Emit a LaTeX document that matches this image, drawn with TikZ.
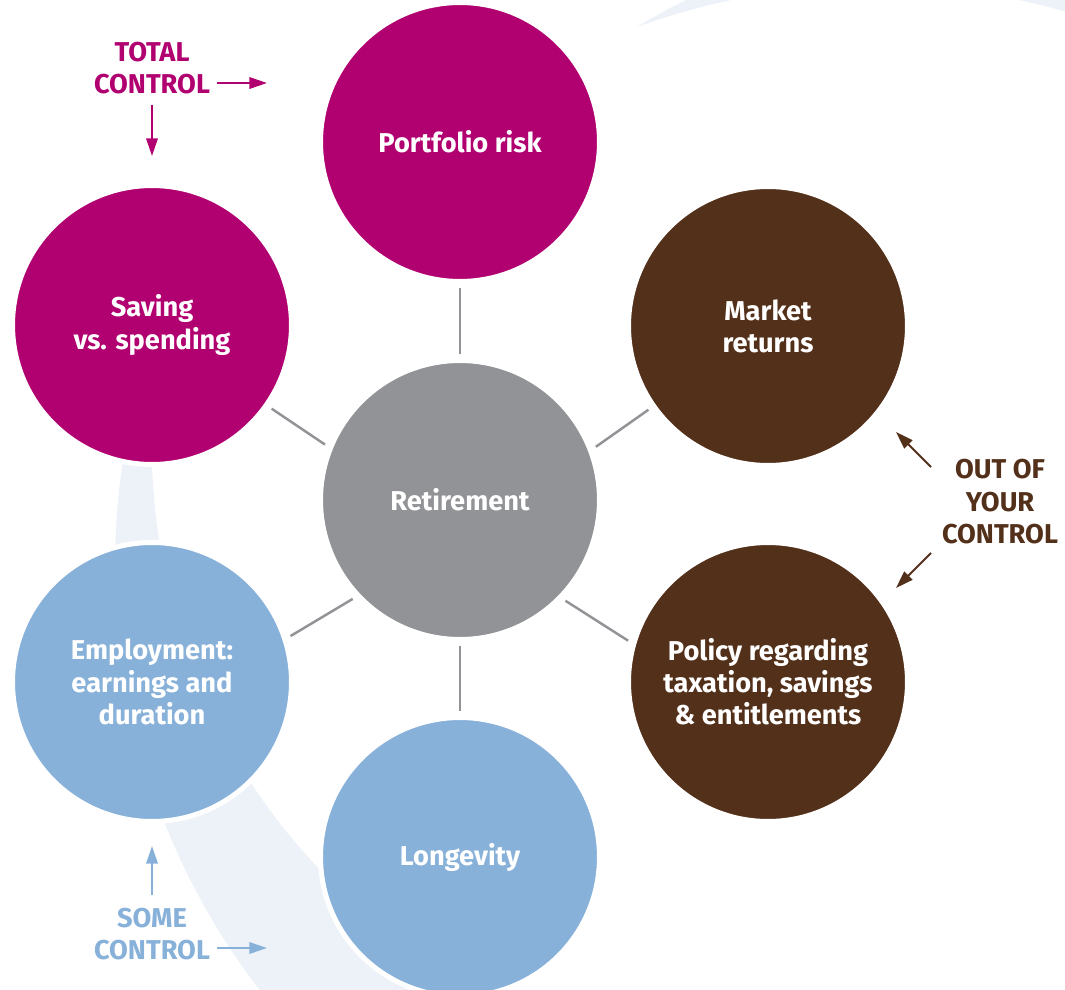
\documentclass[tikz,border=0pt]{standalone}
\usepackage{fontspec}
\setmainfont{Fira Sans}
\usetikzlibrary{arrows.meta}

\definecolor{plum}{RGB}{177,0,112}
\definecolor{umber}{RGB}{83,48,26}
\definecolor{sky}{RGB}{135,177,217}
\definecolor{slate}{RGB}{146,147,150}
\definecolor{haze}{RGB}{237,242,249}

\tikzset{
  bubble/.style={circle, draw=white, line width=0.1cm, minimum size=5.58cm, inner sep=0pt,
    text=white, align=center, font=\bfseries\fontsize{15.5}{18.3}\selectfont},
  spoke/.style={slate, line width=1.4pt, shorten <=2.3pt, shorten >=2.3pt},
  tag/.style={align=center, inner sep=0pt, font=\bfseries\fontsize{15.5}{18.5}\selectfont},
  pointer/.style={line width=1.1pt, -{Triangle[length=10pt,width=6.5pt]}}
}

\begin{document}
\begin{tikzpicture}[x=0.02cm, y=-0.02cm]
\useasboundingbox (0,0) rectangle (1065,990);
% pale swooshes behind the circles
\begin{scope}
\clip (0,0) rectangle (1065,990);
\fill[haze] plot[domain=158:250, samples=60] ({812+697*cos(\x)},{565-697*sin(\x)})
  -- plot[domain=250:158, samples=60] ({812+(697-2.2*(\x-158))*cos(\x)},{565-(697-2.2*(\x-158))*sin(\x)}) -- cycle;
\fill[haze] plot[domain=110:20, samples=60] ({875+697*cos(\x)},{682-697*sin(\x)})
  -- plot[domain=20:110, samples=60] ({875+(697+2.4*(110-\x))*cos(\x)},{682-(697+2.4*(110-\x))*sin(\x)}) -- cycle;
\end{scope}

% circles
\node[bubble, fill=slate] (ret) at (460,500) {Retirement};
\node[bubble, fill=plum] (port) at (460,142) {Portfolio risk};
\node[bubble, fill=plum] (save) at (152,325) {Saving\\vs. spending};
\node[bubble, fill=umber] (mkt) at (768,326) {Market\\returns};
\node[bubble, fill=umber] (pol) at (768,682) {Policy regarding\\taxation, savings\\\& entitlements};
\node[bubble, fill=sky] (empl) at (152,682) {Employment:\\earnings and\\duration};
\node[bubble, fill=sky] (long) at (460,857) {Longevity};

% spokes
\draw[spoke] (ret.90) -- (port.-90);
\draw[spoke] (ret.-90) -- (long.90);
\draw[spoke] (ret.158) -- (save.-35);
\draw[spoke] (ret.223) -- (empl.18);
\draw[spoke] (ret.21) -- (mkt.215);
\draw[spoke] (ret.-44) -- (pol.164);

% control labels
\node[tag, text=plum] (total) at (152,68) {TOTAL\\CONTROL};
\coordinate (t1) at (217,83);
\coordinate (t2) at (267,83);
\coordinate (t3) at (152,105);
\coordinate (t4) at (152,156);
\draw[pointer, plum] (t1) -- (t2);
\draw[pointer, plum] (t3) -- (t4);

\node[tag, text=umber] (out) at (1000,502) {OUT OF\\YOUR\\CONTROL};
\coordinate (o1) at (931,467);
\coordinate (o2) at (896,432);
\coordinate (o3) at (931,553);
\coordinate (o4) at (896,588);
\draw[pointer, umber] (o1) -- (o2);
\draw[pointer, umber] (o3) -- (o4);

\node[tag, text=sky] (some) at (152,934) {SOME\\CONTROL};
\coordinate (s1) at (152,895);
\coordinate (s2) at (152,846);
\coordinate (s3) at (217,948);
\coordinate (s4) at (267,948);
\draw[pointer, sky] (s1) -- (s2);
\draw[pointer, sky] (s3) -- (s4);
\end{tikzpicture}
\end{document}
